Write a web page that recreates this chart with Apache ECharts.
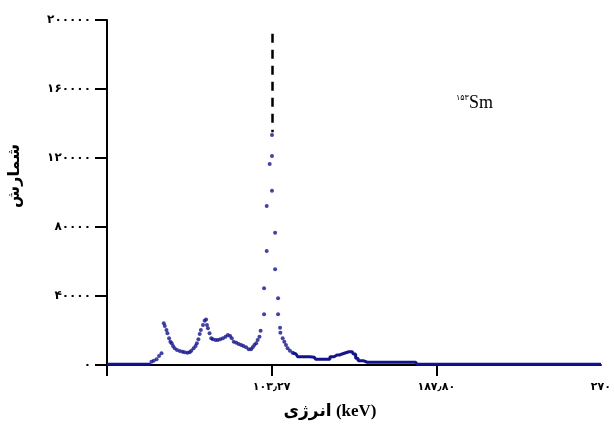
<!DOCTYPE html>
<html>
<head>
<meta charset="utf-8">
<script src="https://cdn.jsdelivr.net/npm/echarts@6/dist/echarts.min.js"></script>
<style>
  html, body { margin: 0; padding: 0; background: #fff; }
  #chart { width: 614px; height: 432px; }
</style>
</head>
<body>
<div id="chart"></div>
<script>
// Energy axis: channel positions and their calibrated energy labels (keV)
const xTickChannels = [0, 100, 200];
const xLabelChannels = [100, 200, 300];
const xTickLabels = ['۱۰۳٫۲۷', '۱۸۷٫۸۰', '۲۷۰'];

// Count axis
const yTickValues = [0, 40000, 80000, 120000, 160000, 200000];
const yTickLabels = ['۰', '۴۰۰۰۰', '۸۰۰۰۰', '۱۲۰۰۰۰', '۱۶۰۰۰۰', '۲۰۰۰۰۰'];

// Spectrum sampled as individual dots (channel, counts)
const dotChannel = [27.0, 28.4, 30.1, 31.6, 33.1, 34.5, 35.1, 36.1, 36.7, 37.7, 38.5, 39.3, 40.1, 41.1, 42.5,
  44.2, 45.8, 47.2, 48.8, 50.2, 51.2, 52.6, 53.8, 54.6, 55.5, 56.3, 57.0, 58.3, 59.3, 60.2, 60.7, 61.3,
  62.3, 63.3, 64.3, 65.9, 67.3, 68.8, 70.4, 72.0, 73.4, 74.8, 75.8, 77.0, 78.5, 80.0, 81.5, 82.9, 84.5,
  86.1, 87.5, 88.5, 89.5, 90.6, 91.5, 92.6, 93.3, 95.4, 95.4, 97.0, 97.0, 98.8, 100.2, 100.2, 100.2,
  102.1, 102.1, 103.9, 103.9, 105.1, 105.3, 106.7, 107.7, 108.7, 109.7, 111.1, 112.7];
const dotCount = [1900, 2500, 3300, 5200, 6800, 24200, 22600, 20300, 18400, 15500, 13500, 12600, 11000, 9700, 8700,
  8100, 7700, 7400, 7100, 7400, 8300, 9700, 11000, 12600, 14900, 18000, 20300, 23200, 25700, 26400, 23200, 21300,
  18400, 15500, 14900, 14500, 14500, 14900, 15500, 16400, 17400, 16800, 15500, 13500, 12900, 12200, 11600, 11000, 10300,
  9100, 9100, 10300, 11600, 12600, 14500, 16400, 19900, 29400, 44500, 66100, 92200, 116500, 133300, 121200, 101000,
  76700, 55500, 38700, 29400, 21600, 18700, 15500, 13500, 11600, 9700, 8300, 7100];

// Low-energy baseline before the first peak
const baseChannel = [0, 26.5];
const baseCount = [500, 500];

// High-energy tail after the main peak
const tailChannel = [112.7, 114.8, 116.8, 120.8, 125.8, 127.8, 132.9, 137.9, 139.7, 142.8, 145.0, 147.0, 149.0,
  150.0, 152.0, 153.0, 158.1, 171.2, 187.4, 189.4, 300];
const tailCount = [7100, 6400, 4800, 4800, 4500, 3300, 3300, 4800, 5800, 6400, 7100, 7700, 7700,
  6400, 3900, 2500, 1600, 1600, 1600, 400, 400];

// Dashed marker above the 103.27 keV photopeak
const peakMarkChannel = 100.2;
const peakMarkRange = [135000, 192000];

const pairs = (xs, ys) => xs.map((x, i) => [x, ys[i]]);
const serifFont = '"Liberation Serif", "DejaVu Sans", serif';
const blue = '#13138c';

const chart = echarts.init(document.getElementById('chart'));
chart.setOption({
  animation: false,
  backgroundColor: '#fff',
  grid: { left: 107, right: 11, top: 20, bottom: 67 },
  xAxis: {
    type: 'value',
    min: 0,
    max: 300,
    splitLine: { show: false },
    axisLine: { show: true, onZero: false, lineStyle: { color: '#000', width: 2 } },
    axisTick: {
      show: true, length: 11, inside: false,
      customValues: xTickChannels,
      lineStyle: { color: '#000', width: 2 }
    },
    axisLabel: {
      customValues: xLabelChannels,
      margin: 17,
      fontSize: 11,
      fontWeight: 'bold',
      color: '#000',
      fontFamily: serifFont,
      formatter: v => xTickLabels[xLabelChannels.indexOf(v)] || ''
    }
  },
  yAxis: {
    type: 'value',
    min: 0,
    max: 200000,
    interval: 40000,
    splitLine: { show: false },
    axisLine: { show: true, lineStyle: { color: '#000', width: 2 } },
    axisTick: { show: true, length: 12, lineStyle: { color: '#000', width: 2 } },
    axisLabel: {
      margin: 16,
      fontSize: 12,
      fontWeight: 'bold',
      color: '#000',
      fontFamily: serifFont,
      formatter: v => yTickLabels[yTickValues.indexOf(v)] || ''
    }
  },
  series: [
    {
      type: 'line',
      data: pairs(baseChannel, baseCount),
      showSymbol: false,
      lineStyle: { color: blue, width: 3 },
      z: 3
    },
    {
      type: 'line',
      data: pairs(tailChannel, tailCount),
      showSymbol: false,
      step: 'middle',
      lineStyle: { color: blue, width: 3 },
      z: 3
    },
    {
      type: 'scatter',
      data: pairs(dotChannel, dotCount),
      symbol: 'circle',
      symbolSize: 4,
      itemStyle: { color: blue },
      z: 4,
      markLine: {
        silent: true,
        symbol: ['none', 'none'],
        label: { show: false },
        lineStyle: { color: '#000', width: 2.5, type: [9, 7] },
        data: [[
          { coord: [peakMarkChannel, peakMarkRange[1]] },
          { coord: [peakMarkChannel, peakMarkRange[0]] }
        ]]
      }
    }
  ],
  graphic: [
    {
      type: 'text',
      rotation: Math.PI / 2,
      x: 15, y: 176,
      style: {
        text: 'شمارش',
        font: 'bold 16px ' + serifFont,
        fill: '#000',
        textAlign: 'center',
        textVerticalAlign: 'middle'
      }
    },
    {
      type: 'text',
      x: 330, y: 412,
      style: {
        text: 'انرژی (keV)',
        font: 'bold 17px ' + serifFont,
        fill: '#000',
        textAlign: 'center',
        textVerticalAlign: 'middle'
      }
    },
    {
      type: 'text',
      x: 456, y: 103,
      style: {
        text: '{sup|۱۵۳}{el|Sm}',
        textVerticalAlign: 'middle',
        rich: {
          sup: { fontSize: 8, fontFamily: serifFont, fill: '#000', verticalAlign: 'top', padding: [0, 0, 10, 0] },
          el: { fontSize: 18, fontFamily: serifFont, fill: '#000' }
        }
      }
    }
  ]
});
</script>
</body>
</html>
